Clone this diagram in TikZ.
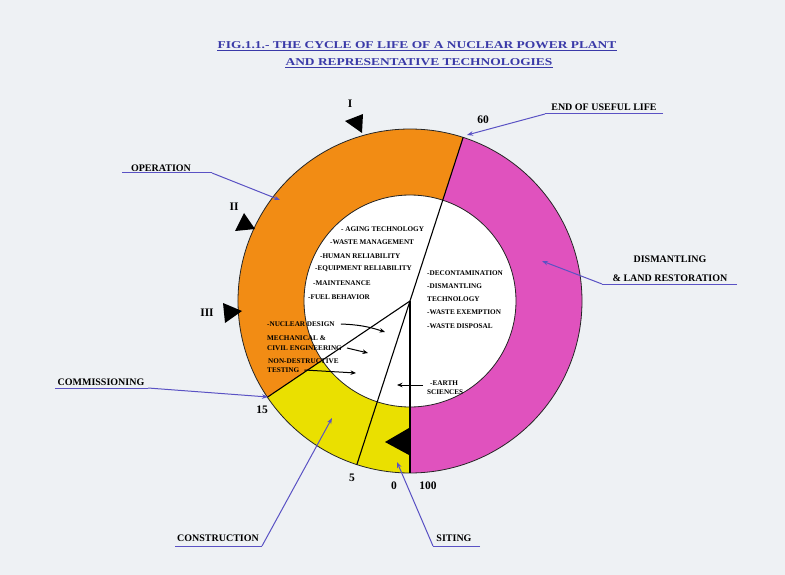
\documentclass[tikz,border=0pt]{standalone}
\usepackage{fontspec}
\setmainfont{Liberation Serif}
\usetikzlibrary{arrows.meta}
\definecolor{bgc}{HTML}{EEF1F4}
\definecolor{orng}{HTML}{F28C14}
\definecolor{magn}{HTML}{E052BE}
\definecolor{yell}{HTML}{EAE000}
\definecolor{leadc}{HTML}{5A52C4}
\definecolor{titlec}{HTML}{3A3AA8}
\newcommand\ringsector[3]{%
  \fill[#3] ([shift={(410,301)}]#1:172) arc[start angle=#1,end angle=#2,radius=172]
    -- ([shift={(410,301)}]#2:106) arc[start angle=#2,end angle=#1,radius=106] -- cycle;}
\begin{document}
\begin{tikzpicture}[x=1pt,y=-1pt,
  titletext/.style={inner sep=0pt,text=titlec,font=\fontsize{10.5}{12}\selectfont\bfseries},
  lbl/.style={inner sep=0pt,font=\fontsize{10}{12}\selectfont\bfseries},
  num/.style={inner sep=0pt,font=\fontsize{11.5}{13}\selectfont\bfseries},
  intext/.style={inner sep=0pt,anchor=west,font=\fontsize{7.2}{8}\selectfont\bfseries},
  ringline/.style={draw=black!85,line width=0.8pt},
  radial/.style={draw=black,line width=1.1pt},
  leader/.style={draw=leadc,line width=1pt},
  leadarrow/.style={leader,-{Stealth[length=6pt,width=4.5pt]}},
  inarrow/.style={draw=black,line width=1pt,-{Stealth[length=5.5pt,width=4.5pt]}},
  marker/.style={fill=black}]
\useasboundingbox (0,0) rectangle (785,575);
\fill[bgc] (0,0) rectangle (785,575);

% title
\node[titletext] (t1) at (417,45) {\scalebox{1.28}[1]{FIG.1.1.- THE CYCLE OF LIFE OF A NUCLEAR POWER PLANT}};
\node[titletext] (t2) at (419,62) {\scalebox{1.28}[1]{AND REPRESENTATIVE TECHNOLOGIES}};
\draw[titlec,line width=0.8pt] ([yshift=-2pt]t1.south west) -- ([yshift=-2pt]t1.south east);
\draw[titlec,line width=0.8pt] ([yshift=-2pt]t2.south west) -- ([yshift=-2pt]t2.south east);

% ring
\coordinate (C) at (410,301);
\fill[white] (C) circle[radius=106];
\ringsector{90}{108}{yell}
\ringsector{108}{146}{yell}
\ringsector{146}{288}{orng}
\ringsector{288}{450}{magn}
\draw[ringline] (C) circle[radius=172];
\draw[ringline] (C) circle[radius=106];

\path (C) ++(288:172) coordinate (p60);
\path (C) ++(146:172) coordinate (p15);
\path (C) ++(108:172) coordinate (p5);
\path (C) ++(90:172) coordinate (p0);
\draw[radial] (C) -- (p60);
\draw[radial] (C) -- (p15);
\draw[radial] (C) -- (p5);
\draw[radial] (C) -- (p0);

% markers
\fill[marker] (345,121) -- (363,114) -- (362,133) -- cycle;
\fill[marker] (244,213) -- (235,231) -- (255,229) -- cycle;
\fill[marker] (223,303) -- (225,323) -- (242,311) -- cycle;
\fill[marker] (385,442) -- (409,428) -- (409,455) -- cycle;

% numbers
\node[num] (nI) at (350,104) {I};
\node[num] (nII) at (234,207) {II};
\node[num] (nIII) at (207,313) {III};
\node[num] (n60) at (483,120) {60};
\node[num] (n15) at (262,410) {15};
\node[num] (n5) at (352,478) {5};
\node[num] (n0) at (394,486) {0};
\node[num] (n100) at (428,486) {100};

% labels with leaders
\node[lbl] (eol) at (604,107) {END OF USEFUL LIFE};
\coordinate (eolA) at (545,114); \coordinate (eolB) at (663,114); \coordinate (eolT) at (467,135);
\draw[leader] (eolB) -- (eolA);
\draw[leadarrow] (eolA) -- (eolT);

\node[lbl] (op) at (161,168) {OPERATION};
\coordinate (opA) at (122,173); \coordinate (opB) at (212,173); \coordinate (opT) at (280,200);
\draw[leader] (opA) -- (opB);
\draw[leadarrow] (opB) -- (opT);

\node[lbl] (dis1) at (670,259) {DISMANTLING};
\node[lbl] (dis2) at (670,278) {\&~LAND RESTORATION};
\coordinate (disA) at (602,284); \coordinate (disB) at (737,284); \coordinate (disT) at (542,261);
\draw[leader] (disB) -- (disA);
\draw[leadarrow] (disA) -- (disT);

\node[lbl] (com) at (101,382) {COMMISSIONING};
\coordinate (comA) at (55,388); \coordinate (comB) at (148,388); \coordinate (comT) at (268,397);
\draw[leader] (comA) -- (comB);
\draw[leadarrow] (comB) -- (comT);

\node[lbl] (con) at (218,538) {CONSTRUCTION};
\coordinate (conA) at (175,546); \coordinate (conB) at (262,546); \coordinate (conT) at (332,418);
\draw[leader] (conA) -- (conB);
\draw[leadarrow] (conB) -- (conT);

\node[lbl] (sit) at (454,538) {SITING};
\coordinate (sitA) at (433,546); \coordinate (sitB) at (480,546); \coordinate (sitT) at (397,462);
\draw[leader] (sitB) -- (sitA);
\draw[leadarrow] (sitA) -- (sitT);

% inner texts: operation
\node[intext] (o1) at (341,229) {- AGING TECHNOLOGY};
\node[intext] (o2) at (330,242) {-WASTE MANAGEMENT};
\node[intext] (o3) at (320,256) {-HUMAN RELIABILITY};
\node[intext] (o4) at (315,269) {-EQUIPMENT RELIABILITY};
\node[intext] (o5) at (313,283) {-MAINTENANCE};
\node[intext] (o6) at (308,297) {-FUEL BEHAVIOR};

% dismantling
\node[intext] (d1) at (427,273) {-DECONTAMINATION};
\node[intext] (d2) at (427,286) {-DISMANTLING};
\node[intext] (d3) at (427,299) {TECHNOLOGY};
\node[intext] (d4) at (427,312) {-WASTE EXEMPTION};
\node[intext] (d5) at (427,326) {-WASTE DISPOSAL};

% construction
\node[intext] (c1) at (267,324) {-NUCLEAR DESIGN};
\node[intext] (c2) at (267,338) {MECHANICAL \&};
\node[intext] (c3) at (267,348) {CIVIL ENGINEERING};
\node[intext] (c4) at (268,361) {NON-DESTRUCTIVE};
\node[intext] (c5) at (267,370) {TESTING};
\coordinate (c1T) at (385,332);
\coordinate (c3T) at (368,353);
\coordinate (c5T) at (356,373);
\draw[inarrow] (c1.east) ++(6,0) coordinate (c1S) (c1S) to[bend left=8] (c1T);
\draw[inarrow] (c3.east) ++(5,0) coordinate (c3S) (c3S) -- (c3T);
\draw[inarrow] (c5.east) ++(5,0) coordinate (c5S) (c5S) -- (c5T);

% siting
\node[intext] (s1) at (430,383) {-EARTH};
\node[intext] (s2) at (427,392) {SCIENCES};
\coordinate (sS) at (423,385); \coordinate (sT) at (397,385);
\draw[inarrow] (sS) -- (sT);
\end{tikzpicture}
\end{document}
